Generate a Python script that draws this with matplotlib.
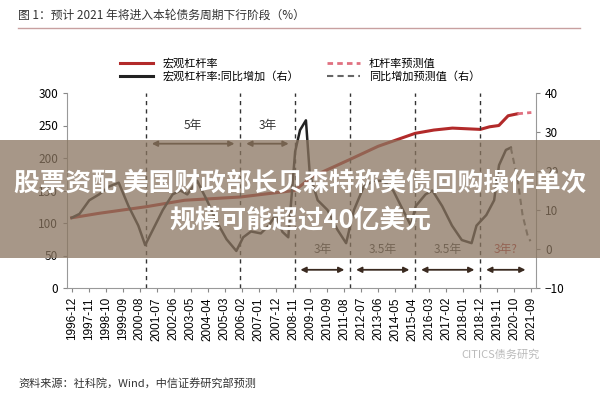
import matplotlib
matplotlib.use("Agg")
import matplotlib.pyplot as plt
import numpy as np
from matplotlib.patches import Rectangle
from matplotlib.lines import Line2D

plt.rcParams['font.family'] = ['Noto Sans CJK SC', 'DejaVu Sans']

tick_labels = ["1996-12","1997-11","1998-10","1999-09","2000-08","2001-07","2002-06","2003-05",
               "2004-04","2005-03","2006-02","2007-01","2007-12","2008-11","2009-10","2010-09",
               "2011-08","2012-07","2013-06","2014-05","2015-04","2016-03","2017-02","2018-01",
               "2018-12","2019-11","2020-10","2021-09"]

def m(s):
    y, mo = s.split("-")
    return (int(y) - 1996) * 12 + int(mo) - 12

# macro leverage (left axis)
lev_dates = ["1996-12","1998-06","2000-12","2003-01","2006-01","2008-12","2009-12","2011-12",
             "2013-06","2015-06","2016-06","2017-06","2018-12","2019-06","2019-12","2020-06","2020-12"]
lev_vals = [108,115,125,135,140,150,172,198,218,238,243,246,244,248,250,265,268]
lev_fc_dates = ["2020-12","2021-09"]
lev_fc_vals = [268,270]

# YoY change (right axis)
yoy_x_px = [67,75,85,95,105,115,125,135,142,150,160,170,178,185,195,205,215,225,235,242,250,260,
            268,275,282,288,295,300,306,310,318,328,338,347,355,365,375,385,395,405,413,418,428,
            435,445,455,465,475,480,490,498,503,510,515]
yoy_vals = [8,9,12.5,14,16,17,11,6,1,5,10,14,15,14,17.5,12.5,7,2.5,-0.5,3,4.5,4,6,8.7,4.4,3,
            25,30.5,33,19,12.5,10,5,1.5,10,16,17.5,17.5,15,10,6,11,14,15,11,6,2.3,1.5,6,8.7,
            12.5,21.5,25.4,26]
yoy_fc_px = [515,522,527,532,535]
yoy_fc_vals = [26,17.7,8.7,3.6,2]

px2m = lambda p: (np.array(p) - 67) / 1.579
cycle_lines = ["2000-12","2006-01","2008-12","2011-12","2015-06","2018-12"]

fig = plt.figure(figsize=(6, 4), dpi=100)
ax = fig.add_axes([67/600, 112/400, 469/600, 195/400])
ax2 = ax.twinx()

ax.plot([m(d) for d in lev_dates], lev_vals, color="#b22a2a", lw=2.2)
ax.plot([m(d) for d in lev_fc_dates], lev_fc_vals, color="#e07080", lw=2, ls=(0, (2, 1.5)))
ax2.plot(px2m(yoy_x_px), yoy_vals, color="#222222", lw=1.8)
ax2.plot(px2m(yoy_fc_px), yoy_fc_vals, color="#666666", lw=1.5, ls=(0, (3, 2)))

ax.set_ylim(0, 300)
ax2.set_ylim(-10, 40)
ax.set_xlim(-3, 300)
ax.set_yticks([0, 50, 100, 150, 200, 250, 300])
ax2.set_yticks([-10, 0, 10, 20, 30, 40])
ax.set_xticks([m(t) for t in tick_labels])
ax.set_xticklabels(tick_labels, rotation=90, fontsize=7, family="Liberation Sans")
for a in (ax, ax2):
    a.tick_params(labelsize=8.5, length=3, color="#888888")
    for s in a.spines.values():
        s.set_visible(False)
ax.spines['left'].set_visible(True); ax.spines['bottom'].set_visible(True)
ax2.spines['right'].set_visible(True)
for s in (ax.spines['left'], ax.spines['bottom'], ax2.spines['right']):
    s.set_color("#999999")

for d in cycle_lines:
    ax.axvline(m(d), color="#333333", lw=1, ls=(0, (3, 3)))

def arrow(a, b, y, label, color="#333333", ty=None):
    ax.annotate("", xy=(m(b) - 2, y), xytext=(m(a) + 2, y),
                arrowprops=dict(arrowstyle="<|-|>", color="#3a2a20", lw=1.3, mutation_scale=8))
    ax.text((m(a) + m(b)) / 2, ty, label, ha="center", va="center", fontsize=8.5, color=color)

arrow("2000-12", "2006-01", 222, "5年", ty=250)
arrow("2006-01", "2008-12", 222, "3年", ty=250)
arrow("2008-12", "2011-12", 28, "3年", ty=60)
arrow("2011-12", "2015-06", 28, "3.5年", ty=60)
arrow("2015-06", "2018-12", 28, "3.5年", ty=60)
arrow("2018-12", "2021-09", 28, "3年?", color="#b03030", ty=60)

h = [Line2D([], [], color="#b22a2a", lw=2.2), Line2D([], [], color="#e07080", lw=2, ls=(0, (2, 1.5))),
     Line2D([], [], color="#222222", lw=2.2), Line2D([], [], color="#666666", lw=1.5, ls=(0, (3, 2)))]
lab = ["宏观杠杆率", "杠杆率预测值", "宏观杠杆率:同比增加（右）", "同比增加预测值（右）"]
fig.legend([h[0], h[2], h[1], h[3]], [lab[0], lab[2], lab[1], lab[3]], ncol=2, frameon=False,
           loc="center", bbox_to_anchor=(0.5, 1 - 70/400), fontsize=8, handlelength=3,
           columnspacing=2.5, labelspacing=0.25)

fig.text(18/600, 1 - 15/400, "图 1：预计 2021 年将进入本轮债务周期下行阶段（%）", fontsize=8.5,
         va="center", color="#333333")
fig.add_artist(Line2D([18/600, 580/600], [1 - 28/400] * 2, color="#c8a0a0", lw=1))
fig.text(18/600, 1 - 383/400, "资料来源：社科院，Wind，中信证券研究部预测", fontsize=8,
         va="center", color="#333333")
fig.text(500/600, 1 - 355/400, "CITICS债务研究", fontsize=8, va="center", ha="center", color="#bbbbbb")

# overlay banner
fig.add_artist(Rectangle((0, 1 - 258/400), 1, 118/400, transform=fig.transFigure,
                         facecolor="#8a7560", alpha=0.75, edgecolor="none"))
fig.text(0.5, 1 - 183/400, "股票资配 美国财政部长贝森特称美债回购操作单次", fontsize=18.5,
         weight="bold", color="white", ha="center", va="center")
fig.text(0.5, 1 - 220/400, "规模可能超过40亿美元", fontsize=18.5,
         weight="bold", color="white", ha="center", va="center")

fig.savefig("out.png", dpi=100)
